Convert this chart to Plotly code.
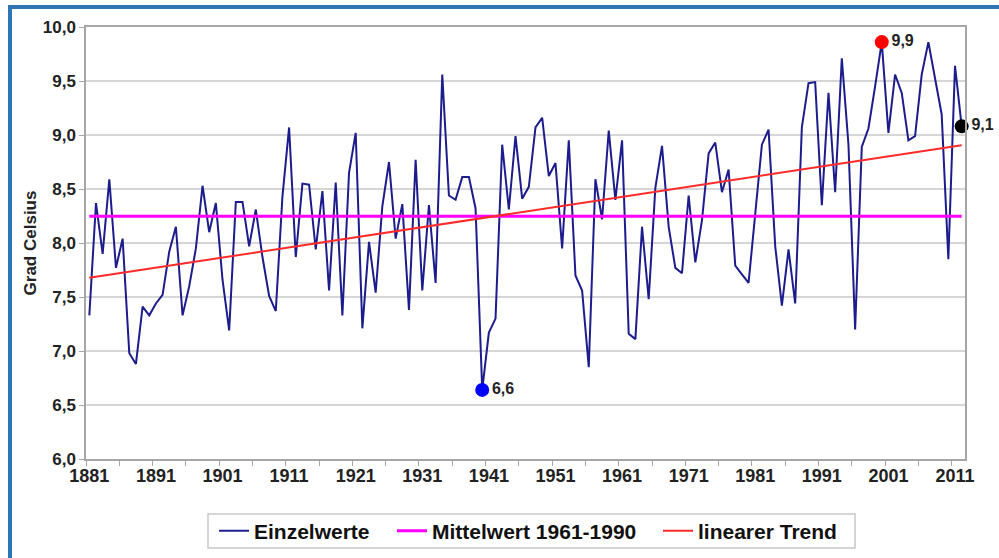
import plotly.graph_objects as go
import numpy as np

# Jahresmittel der Lufttemperatur (Deutschland), 1881-2012
years = list(range(1881, 2013))
temps = [
    7.33, 8.37, 7.90, 8.59, 7.77, 8.04, 6.98, 6.88, 7.41, 7.33,   # 1881-1890
    7.44, 7.52, 7.92, 8.15, 7.33, 7.60, 7.95, 8.53, 8.10, 8.37,   # 1891-1900
    7.66, 7.19, 8.38, 8.38, 7.97, 8.31, 7.87, 7.51, 7.37, 8.43,   # 1901-1910
    9.07, 7.87, 8.55, 8.54, 7.94, 8.48, 7.56, 8.56, 7.33, 8.65,   # 1911-1920
    9.02, 7.21, 8.01, 7.54, 8.34, 8.75, 8.04, 8.36, 7.38, 8.77,   # 1921-1930
    7.56, 8.35, 7.63, 9.56, 8.44, 8.40, 8.61, 8.61, 8.32, 6.64,   # 1931-1940
    7.17, 7.30, 8.91, 8.31, 8.99, 8.41, 8.52, 9.07, 9.16, 8.62,   # 1941-1950
    8.74, 7.95, 8.95, 7.70, 7.56, 6.85, 8.59, 8.22, 9.04, 8.40,   # 1951-1960
    8.95, 7.16, 7.11, 8.15, 7.48, 8.51, 8.90, 8.15, 7.77, 7.72,   # 1961-1970
    8.44, 7.82, 8.21, 8.83, 8.93, 8.47, 8.68, 7.79, 7.71, 7.63,   # 1971-1980
    8.27, 8.91, 9.05, 7.97, 7.42, 7.94, 7.44, 9.07, 9.48, 9.49,   # 1981-1990
    8.35, 9.39, 8.47, 9.71, 8.91, 7.20, 8.89, 9.06, 9.45, 9.86,   # 1991-2000
    9.02, 9.56, 9.39, 8.95, 8.99, 9.56, 9.86, 9.51, 9.19, 7.85,   # 2001-2010
    9.64, 9.08,                                                   # 2011-2012
]
label_years = list(range(1881, 2012, 10))

yr = np.array(years)
tv = np.array(temps)

# Mittelwert 1961-1990 und linearer Trend
ref_mask = (yr >= 1961) & (yr <= 1990)
mean_ref = tv[ref_mask].mean()
slope, icpt = np.polyfit(yr, tv, 1)
trend = slope * yr + icpt

FONT = "Liberation Sans, Arial, sans-serif"

L, R, T, B = 86, 34, 27, 99
W, H = 999, 558
pw, ph = W - L - R, H - T - B


def px_x(p):
    return (p - L) / pw


def px_y(p):
    return (H - B - p) / ph


fig = go.Figure()
fig.add_trace(go.Scatter(x=years, y=temps, mode="lines", name="Einzelwerte",
                         line=dict(color="#1c1c8c", width=2), legend="legend"))
fig.add_trace(go.Scatter(x=[years[0], years[-1]], y=[mean_ref, mean_ref], mode="lines",
                         name="Mittelwert 1961-1990",
                         line=dict(color="#ff00ff", width=3), legend="legend2"))
fig.add_trace(go.Scatter(x=[years[0], years[-1]], y=[trend[0], trend[-1]], mode="lines",
                         name="linearer Trend",
                         line=dict(color="#ff2a2a", width=2), legend="legend3"))

# markierte Werte: Minimum, Maximum, letzter Wert
i_min = int(np.argmin(tv))
i_max = int(np.argmax(tv))
i_last = len(temps) - 1
for i, col in [(i_min, "#0000ff"), (i_max, "#ff0000"), (i_last, "#000000")]:
    fig.add_trace(go.Scatter(
        x=[years[i]], y=[temps[i]], mode="markers+text",
        marker=dict(color=col, size=14),
        text=[f"{temps[i]:.1f}".replace(".", ",")],
        textposition="middle right",
        textfont=dict(family=FONT, size=16, color="#222222", weight=700),
        showlegend=False, cliponaxis=False))

# blauer Rahmen um das Diagramm
fig.add_shape(type="rect", xref="paper", yref="paper",
              x0=px_x(10), x1=px_x(W + 20), y0=px_y(H + 20), y1=px_y(7),
              line=dict(color="#2e75b6", width=4), layer="below")
# Rahmen der Legende
fig.add_shape(type="rect", xref="paper", yref="paper",
              x0=px_x(208), x1=px_x(855), y0=px_y(548), y1=px_y(514),
              line=dict(color="#c8c8c8", width=1.5), layer="below")

leg_font = dict(family=FONT, size=21, color="#111111", weight=700)
leg_common = dict(orientation="h", xanchor="left", yanchor="middle", y=px_y(531),
                  bgcolor="rgba(0,0,0,0)", borderwidth=0, font=leg_font)

fig.update_layout(
    width=W, height=H,
    margin=dict(l=L, r=R, t=T, b=B, autoexpand=False),
    paper_bgcolor="white", plot_bgcolor="white",
    separators=",.",
    font=dict(family=FONT, color="#222222", weight=700),
    legend=dict(x=px_x(214), **leg_common),
    legend2=dict(x=px_x(392), **leg_common),
    legend3=dict(x=px_x(658), **leg_common),
)
fig.update_xaxes(
    range=[1880.5, 2012.5], automargin=False,
    tickvals=label_years, ticktext=[str(v) for v in label_years],
    ticks="", tickfont=dict(size=18, weight=700),
    showgrid=False, zeroline=False,
    showline=True, linecolor="#a6a6a6", linewidth=1.5, mirror=True,
    minor=dict(tickvals=[y + 0.5 for y in range(1880, 2013, 5)],
               ticks="outside", ticklen=5, tickcolor="#a6a6a6", showgrid=False),
)
fig.update_yaxes(
    range=[6.0, 10.0], dtick=0.5, tickformat=".1f", automargin=False,
    ticks="outside", ticklen=5, tickcolor="#a6a6a6",
    tickfont=dict(size=17, weight=700),
    showgrid=True, gridcolor="#d6d6d6", gridwidth=2, zeroline=False,
    showline=True, linecolor="#a6a6a6", linewidth=1.5, mirror=True,
    title=dict(text="Grad Celsius", font=dict(size=17, weight=700), standoff=2),
)

fig.write_html("out.html", config={"displayModeBar": False},
               post_script="document.body.style.margin='0';")
